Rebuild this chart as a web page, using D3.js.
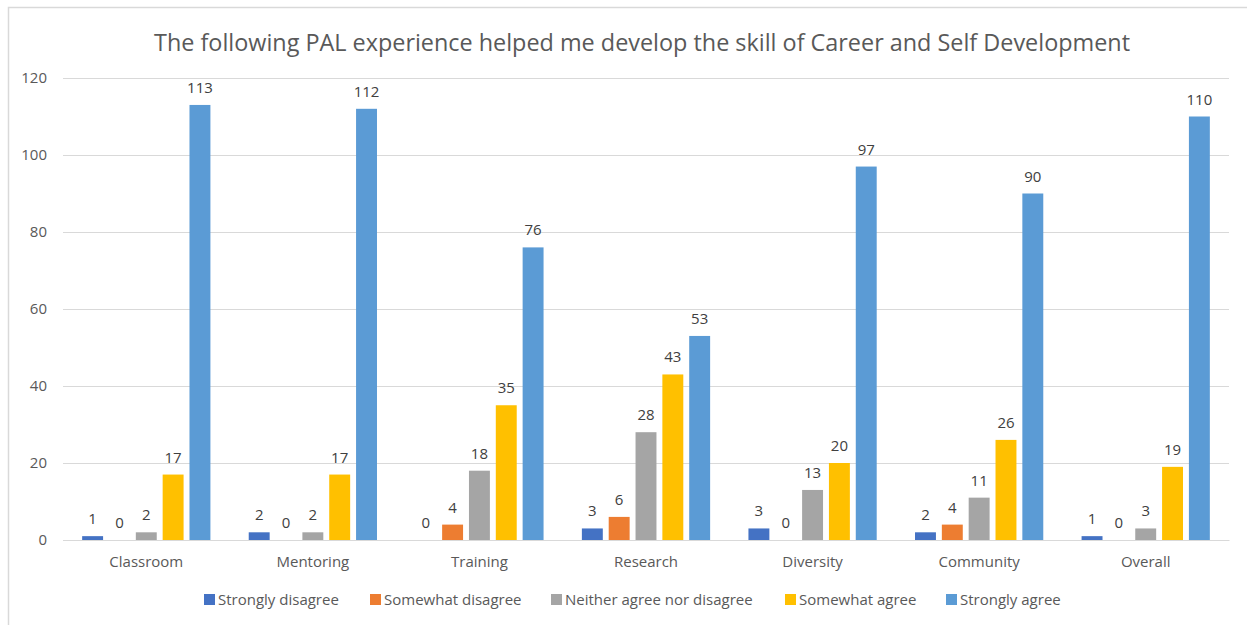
<!DOCTYPE html>
<html>
<head>
    <meta charset="utf-8">
    <title>PAL Career and Self Development</title>
    <script src="https://cdn.jsdelivr.net/npm/d3@7"></script>
    <style>
        body { margin: 0; background: #fff; }
        text { font-family: "Open Sans", "Noto Sans", sans-serif; }
    </style>
</head>
<body>
    <script>
        // data
        var categories = ['Classroom', 'Mentoring', 'Training', 'Research', 'Diversity', 'Community', 'Overall'];
        var seriesNames = ['Strongly disagree', 'Somewhat disagree', 'Neither agree nor disagree', 'Somewhat agree', 'Strongly agree'];
        var stronglyDisagree = [1, 2, 0, 3, 3, 2, 1];
        var somewhatDisagree = [0, 0, 4, 6, 0, 4, 0];
        var neither = [2, 2, 18, 28, 13, 11, 3];
        var somewhatAgree = [17, 17, 35, 43, 20, 26, 19];
        var stronglyAgree = [113, 112, 76, 53, 97, 90, 110];
        var yTicks = [0, 20, 40, 60, 80, 100, 120];

        var colors = ['#4472C4', '#ED7D31', '#A5A5A5', '#FFC000', '#5B9BD5'];
        var allSeries = [stronglyDisagree, somewhatDisagree, neither, somewhatAgree, stronglyAgree];

        var width = 1247,
            height = 625;

        var svg = d3.select('body')
            .append('svg')
            .attr('width', width)
            .attr('height', height);

        // chart frame (cut off at right / bottom in the original)
        svg.append('rect')
            .attr('x', 8.5).attr('y', 7.5)
            .attr('width', 1300).attr('height', 700)
            .attr('fill', 'none')
            .attr('stroke', '#d9d9d9')
            .attr('stroke-width', 1.5);

        svg.append('text')
            .attr('x', 642)
            .attr('y', 51)
            .attr('text-anchor', 'middle')
            .attr('fill', '#595959')
            .style('font-size', '23.4px')
            .text('The following PAL experience helped me develop the skill of Career and Self Development');

        // plot area (window.top is reserved, so prefixed names)
        var plotLeft = 63, plotRight = 1229, plotTop = 78, plotBottom = 540;

        var y = d3.scaleLinear()
            .domain([0, 120])
            .range([plotBottom, plotTop]);

        var x0 = d3.scaleBand()
            .domain(categories)
            .range([plotLeft, plotRight])
            .paddingInner(0.23)
            .paddingOuter(0.115);

        var x1 = d3.scaleBand()
            .domain(d3.range(seriesNames.length))
            .range([0, x0.bandwidth()])
            .paddingInner(0.22);

        // gridlines
        var yAxis = d3.axisLeft(y)
            .tickValues(yTicks)
            .tickSize(-(plotRight - plotLeft))
            .tickPadding(16);

        var gy = svg.append('g')
            .attr('transform', 'translate(' + plotLeft + ',0)')
            .call(yAxis);
        gy.select('.domain').remove();
        gy.selectAll('.tick line').attr('stroke', '#d9d9d9').attr('stroke-width', 1);
        gy.selectAll('.tick text')
            .attr('fill', '#595959')
            .style('font-size', '15px');

        // x axis
        var xAxis = d3.axisBottom(x0).tickSize(0).tickPadding(16);
        var gx = svg.append('g')
            .attr('transform', 'translate(0,' + plotBottom + ')')
            .call(xAxis);
        gx.select('.domain').attr('stroke', '#d9d9d9').attr('stroke-width', 1.2);
        gx.selectAll('.tick text')
            .attr('fill', '#595959')
            .style('font-size', '15px');

        // bars
        var groups = svg.append('g').selectAll('g')
            .data(categories)
            .enter().append('g')
            .attr('transform', function (d) { return 'translate(' + x0(d) + ',0)'; });

        function rows(d, i) {
            return allSeries.map(function (s, k) { return { k: k, v: s[i] }; });
        }

        groups.selectAll('rect')
            .data(rows)
            .enter().append('rect')
            .attr('x', function (d) { return x1(d.k); })
            .attr('y', function (d) { return y(d.v); })
            .attr('width', x1.bandwidth())
            .attr('height', function (d) { return plotBottom - y(d.v); })
            .attr('fill', function (d) { return colors[d.k]; });

        groups.selectAll('text')
            .data(rows)
            .enter().append('text')
            .attr('x', function (d) { return x1(d.k) + x1.bandwidth() / 2; })
            .attr('y', function (d) { return y(d.v) - 12; })
            .attr('text-anchor', 'middle')
            .attr('fill', '#404040')
            .style('font-size', '15px')
            .text(function (d) { return d.v; });

        // legend
        var legendX = [204, 370, 551, 785, 946];
        var legend = svg.append('g').selectAll('g')
            .data(seriesNames)
            .enter().append('g')
            .attr('transform', function (d, i) { return 'translate(' + legendX[i] + ',600)'; });

        legend.append('rect')
            .attr('x', 0).attr('y', -6)
            .attr('width', 11).attr('height', 11)
            .attr('fill', function (d, i) { return colors[i]; });

        legend.append('text')
            .attr('x', 14)
            .attr('y', 0)
            .attr('dy', '0.35em')
            .attr('fill', '#595959')
            .style('font-size', '15px')
            .text(function (d) { return d; });
    </script>
</body>
</html>
